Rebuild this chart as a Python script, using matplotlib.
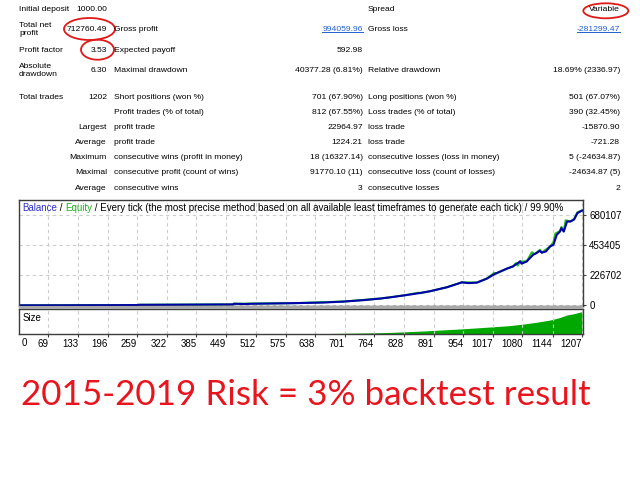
import matplotlib
matplotlib.use("Agg")
import matplotlib.pyplot as plt
from matplotlib.patches import Ellipse, Rectangle
from matplotlib.lines import Line2D

# report table (rows top to bottom)
col1_label = ["Initial deposit", "Total net\nprofit", "Profit factor", "Absolute\ndrawdown", "Total trades",
              "", "Largest", "Average", "Maximum", "Maximal", "Average"]
col1_value = ["1000.00", "712760.49", "3.53", "6.30", "1202", "", "", "", "", "", ""]
col2_label = ["", "Gross profit", "Expected payoff", "Maximal drawdown", "Short positions (won %)",
              "Profit trades (% of total)", "profit trade", "profit trade",
              "consecutive wins (profit in money)", "consecutive profit (count of wins)", "consecutive wins"]
col2_value = ["", "994059.96", "592.98", "40377.28 (6.81%)", "701 (67.90%)", "812 (67.55%)",
              "22964.97", "1224.21", "18 (16327.14)", "91770.10 (11)", "3"]
col3_label = ["Spread", "Gross loss", "", "Relative drawdown", "Long positions (won %)",
              "Loss trades (% of total)", "loss trade", "loss trade",
              "consecutive losses (loss in money)", "consecutive loss (count of losses)", "consecutive losses"]
col3_value = ["Variable", "-281299.47", "", "18.69% (2336.97)", "501 (67.07%)", "390 (32.45%)",
              "-15870.90", "-721.28", "5 (-24634.87)", "-24634.87 (5)", "2"]

# balance / equity curve (trade number, money)
bal_trade = [0, 100, 200, 260, 262, 350, 463, 465, 488, 500, 588, 656, 698, 741, 777, 800, 830, 855,
             883, 919, 951, 965, 983, 1004, 1022, 1047, 1060, 1075, 1078, 1089, 1103, 1110, 1117, 1121,
             1130, 1139, 1146, 1153, 1160, 1163, 1168, 1175, 1182, 1190, 1197, 1207]
bal_value = [1000, 1400, 2200, 3000, 5000, 6000, 8000, 13000, 10500, 12500, 17000, 22000, 29000, 40000,
             52000, 62000, 77000, 90000, 107000, 137000, 174000, 168000, 172000, 202000, 239000, 277000,
             294000, 331000, 314000, 331000, 382000, 394000, 411000, 397000, 406000, 444000, 456000,
             531000, 556000, 581000, 556000, 631000, 631000, 646000, 694000, 713760]
eq_trade = [0, 260, 262, 463, 465, 600, 700, 777, 830, 858, 862, 883, 919, 951, 983, 1004, 1020, 1024,
            1047, 1060, 1066, 1070, 1075, 1089, 1100, 1106, 1117, 1121, 1139, 1146, 1150, 1160, 1163,
            1168, 1172, 1178, 1182, 1190, 1197, 1207]
eq_value = [1000, 3000, 5000, 8000, 13000, 18000, 30000, 52000, 77000, 96000, 92000, 107000, 137000,
            174000, 172000, 202000, 245000, 240000, 277000, 294000, 318000, 300000, 331000, 331000,
            400000, 385000, 418000, 397000, 444000, 475000, 540000, 560000, 590000, 556000, 640000,
            635000, 631000, 650000, 700000, 713760]

# lot size panel
size_trade = [7, 300, 500, 650, 756, 800, 870, 950, 1011, 1050, 1081, 1110, 1139, 1160, 1175, 1190, 1207]
size_lots = [0.1, 0.4, 1.3, 2.2, 4.5, 6.0, 10.5, 17, 23, 27, 32, 38, 45, 53, 61, 65, 71.5]

y_ticks = [0, 226702, 453405, 680107]
x_ticks = [69, 133, 196, 259, 322, 385, 449, 512, 575, 638, 701, 764, 828, 891, 954, 1017, 1080, 1144, 1207]

W, H = 640, 480
def fx(x):
    return x / W
def fy(y):
    return 1 - y / H

plt.rcParams['font.family'] = ['Liberation Sans', 'DejaVu Sans']
fig = plt.figure(figsize=(6.4, 4.8), dpi=100)
fig.patch.set_facecolor('white')

fs = 6.1
link = '#2060d0'
rows_y = [9.3, 29.3, 50, 70, 97.5, 112.3, 127.7, 142.3, 157.7, 172.3, 188.3]
links = []
for i, y in enumerate(rows_y):
    if i < 5:
        fig.text(fx(19), fy(y), col1_label[i], fontsize=fs, va='center', ha='left', linespacing=1.2)
    else:
        fig.text(fx(107), fy(y), col1_label[i], fontsize=fs, va='center', ha='right')
    fig.text(fx(107), fy(y), col1_value[i], fontsize=fs, va='center', ha='right')
    fig.text(fx(114), fy(y), col2_label[i], fontsize=fs, va='center', ha='left')
    c = link if i == 1 else 'black'
    t = fig.text(fx(362.7), fy(y), col2_value[i], fontsize=fs, va='center', ha='right', color=c)
    if i == 1:
        links.append(t)
    fig.text(fx(368), fy(y), col3_label[i], fontsize=fs, va='center', ha='left')
    t = fig.text(fx(620), fy(y), col3_value[i], fontsize=fs, va='center', ha='right', color=c)
    if i == 1:
        links.append(t)

# red marks
for cx, cy, w, h in [(89.5, 29, 51, 22), (97.5, 49.7, 33, 20), (605.8, 10.8, 45, 15)]:
    fig.patches.append(Ellipse((fx(cx), fy(cy)), w / W, h / H, transform=fig.transFigure,
                               fill=False, edgecolor='#e01818', lw=1.3))

# main chart
frame = '#3c3c3c'
grid_kw = dict(color='#cccccc', lw=0.8, ls=(0, (3, 3)))
ax = fig.add_axes([fx(19), fy(306), 564 / W, (306 - 199.7) / H])
ax.plot(eq_trade, eq_value, color='#20c020', lw=1.5)
ax.plot(bal_trade, bal_value, color='#0000aa', lw=1.5)
ax.set_xlim(7, 1209)
ax.set_ylim(-4000, 795000)
ax.set_xticks(x_ticks)
ax.set_yticks(y_ticks)
ax.set_yticklabels([str(v) for v in y_ticks])
ax.yaxis.tick_right()
ax.tick_params(axis='x', length=0, labelbottom=False)
ax.tick_params(axis='y', direction='out', length=2.5, labelsize=7, pad=2, color=frame)
ax.grid(True, **grid_kw)
for s in ax.spines.values():
    s.set_color(frame)
    s.set_linewidth(1.0)

# size panel
ax2 = fig.add_axes([fx(19), fy(334.3), 564 / W, (334.3 - 308.6) / H])
ax2.fill_between(size_trade, size_lots, color='#00a800', lw=0)
ax2.set_xlim(7, 1209)
ax2.set_ylim(0, 81)
ax2.set_yticks([])
ax2.set_xticks(x_ticks)
ax2.set_xticklabels([str(v) for v in x_ticks], ha='right')
ax2.tick_params(axis='x', direction='out', length=2, labelsize=7, pad=1.5, color=frame)
ax2.grid(True, axis='x', **grid_kw)
for s in ax2.spines.values():
    s.set_color(frame)
    s.set_linewidth(1.0)
ax2.text(0.005, -0.14, "0", transform=ax2.transAxes, fontsize=7, ha='left', va='top')
fig.text(fx(22.3), fy(317.7), "Size", fontsize=7, va='center')
fig.patches.append(Rectangle((fx(19), fy(308.6)), 564 / W, 2.6 / H, transform=fig.transFigure,
                             facecolor='#a8a8a8', edgecolor='none'))

# chart caption in pieces
fig.canvas.draw()
r = fig.canvas.get_renderer()
for t in links:
    bb = t.get_window_extent(r)
    fig.lines.append(Line2D([bb.x0 / W, bb.x1 / W], [(bb.y0 + 0.5) / H] * 2,
                            transform=fig.transFigure, color=link, lw=0.7))
xc = fx(22)
parts = [("Balance", '#3030c8'), (" / ", 'black'), ("Equity", '#20b020'),
         (" / Every tick (the most precise method based on all available least timeframes to generate each tick) / 99.90%", 'black')]
for s, c in parts:
    t = fig.text(xc, fy(207.7), s, color=c, fontsize=7, va='center', ha='left')
    xc = t.get_window_extent(r).x1 / W

# big caption, sized to span the reference width
big = fig.text(fx(21), fy(405), "2015-2019 Risk = 3% backtest result", fontfamily='Lato',
               color='#e8141e', fontsize=32, va='baseline', ha='left')
wpx = big.get_window_extent(r).width
big.set_fontsize(32 * 570 / wpx)

fig.savefig("out.png", dpi=100)
